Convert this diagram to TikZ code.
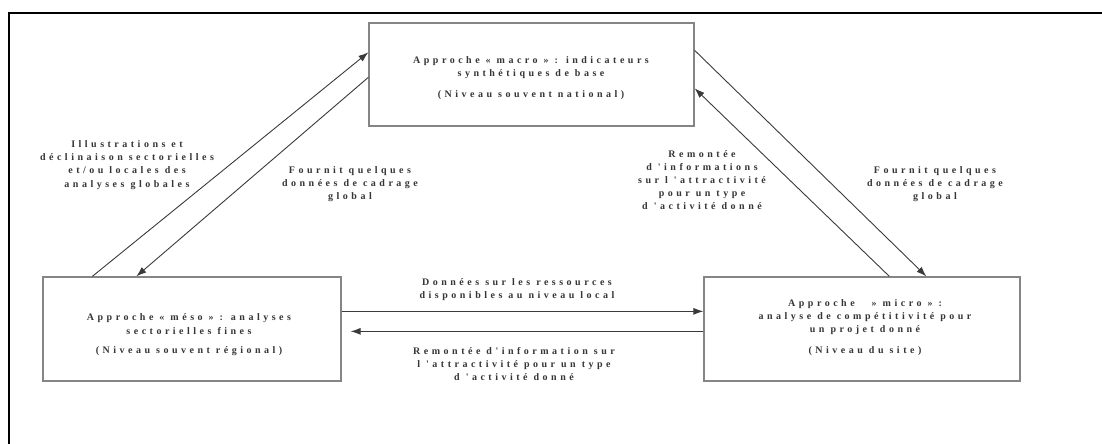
\documentclass[tikz,border=0pt]{standalone}
\usepackage{fontspec}
\newfontfamily\lbl[LetterSpace=35]{Liberation Serif}
\usetikzlibrary{arrows.meta,calc}
\definecolor{boxgray}{HTML}{858585}
\definecolor{linegray}{HTML}{3A3A3A}
\definecolor{txtgray}{HTML}{353535}
\tikzset{
  box/.style={draw=boxgray, line width=1.3pt, inner sep=0pt},
  lbltext/.style={font=\lbl\bfseries\fontsize{10}{13.2}\selectfont, text=txtgray, align=center, inner sep=0pt},
  arr/.style={draw=linegray, line width=0.9pt, -{Latex[length=10pt,width=7pt]}},
  frame/.style={draw=black, line width=2pt}
}
\begin{document}
\begin{tikzpicture}[x=1pt,y=-1pt]
\useasboundingbox (0,0) rectangle (1102,444);
% outer frame (runs off right and bottom)
\coordinate (fbl) at (9,450);
\coordinate (ftl) at (9,13);
\coordinate (ftr) at (1110,13);
\draw[frame] (fbl) -- (ftl) -- (ftr);

% boxes
\node[box, minimum width=325pt, minimum height=103pt] (macro) at (531.5,74.5) {};
\node[box, minimum width=298pt, minimum height=104pt] (meso) at (192,329) {};
\node[box, minimum width=316pt, minimum height=104pt] (micro) at (862,329) {};

% box texts
\node[lbltext] (macrot) at (531,68) {Approche « macro » : indicateurs\\synthétiques de base};
\node[lbltext] (macron) at (531,95) {(Niveau souvent national)};
\node[lbltext] (mesot) at (189,324) {Approche « méso » : analyses\\sectorielles fines};
\node[lbltext] (meson) at (189,351) {(Niveau souvent régional)};
\node[lbltext] (microt) at (865,317) {Approche \phantom{«} » micro » :\\analyse de compétitivité pour\\un projet donné};
\node[lbltext] (micron) at (865,351) {(Niveau du site)};

% connector labels
\node[lbltext] (lill) at (127,165) {Illustrations et\\déclinaison sectorielles\\et/ou locales des\\analyses globales};
\node[lbltext] (lfl) at (350,184) {Fournit quelques\\données de cadrage\\global};
\node[lbltext] (lrem) at (702,180) {Remontée\\d 'informations\\sur l 'attractivité\\pour un type\\d 'activité donné};
\node[lbltext] (lfr) at (935,184) {Fournit quelques\\données de cadrage\\global};
\node[lbltext] (ldon) at (517,289.5) {Données sur les ressources\\disponibles au niveau local};
\node[lbltext] (lremb) at (514,364) {Remontée d'information sur\\l 'attractivité pour un type\\d 'activité donné};

% connectors
\draw[arr] ([xshift=50pt]meso.north west) -- ([yshift=-30pt]macro.north west);
\draw[arr] ([yshift=-55pt]macro.north west) -- ([xshift=94pt]meso.north west);
\draw[arr] ([yshift=-28pt]macro.north east) -- ([xshift=223pt]micro.north west);
\draw[arr] ([xshift=186pt]micro.north west) -- ([yshift=-66pt]macro.north east);
\draw[arr] ([yshift=-35pt]meso.north east) -- ([yshift=-35pt]micro.north west);
\draw[arr] ([yshift=-55pt]micro.north west) -- ([xshift=9pt,yshift=-55pt]meso.north east);
\end{tikzpicture}
\end{document}
